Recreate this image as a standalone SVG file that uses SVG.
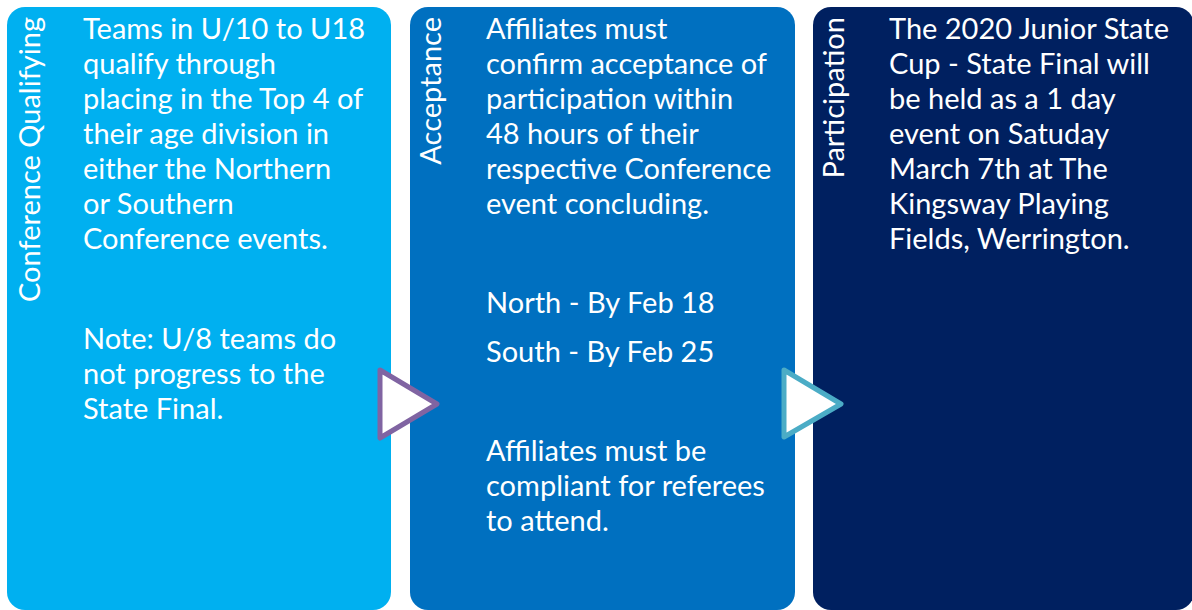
<svg xmlns="http://www.w3.org/2000/svg" width="1192" height="610" viewBox="0 0 1192 610">
<style>
.t{font-family:Lato,"Liberation Sans",sans-serif;font-size:29px;fill:#FFFFFF}
.lbl{font-family:Lato,"Liberation Sans",sans-serif;font-size:29px;fill:#FFFFFF;text-anchor:end}
.arr{fill:#FFFFFF;stroke-width:5;stroke-linejoin:round}
</style>
<rect width="1192" height="610" fill="#FFFFFF"/>
<g id="node-conference-qualifying">
<rect x="7" y="7" width="384" height="603" rx="18" fill="#00B0F0"/>
<text class="lbl" transform="translate(40,17) rotate(-90)">Conference Qualifying</text>
<text class="t" x="83" y="39">Teams in U/10 to U18</text>
<text class="t" x="83" y="74">qualify through</text>
<text class="t" x="83" y="109">placing in the Top 4 of</text>
<text class="t" x="83" y="144">their age division in</text>
<text class="t" x="83" y="179">either the Northern</text>
<text class="t" x="83" y="214">or Southern</text>
<text class="t" x="83" y="249">Conference events.</text>
<text class="t" x="83" y="349">Note: U/8 teams do</text>
<text class="t" x="83" y="384">not progress to the</text>
<text class="t" x="83" y="419">State Final.</text>
</g>
<g id="node-acceptance">
<rect x="410" y="7" width="385" height="603" rx="18" fill="#0070C0"/>
<text class="lbl" transform="translate(441,17) rotate(-90)">Acceptance</text>
<text class="t" x="486" y="39">Affiliates must</text>
<text class="t" x="486" y="74">confirm acceptance of</text>
<text class="t" x="486" y="109">participation within</text>
<text class="t" x="486" y="144">48 hours of their</text>
<text class="t" x="486" y="179">respective Conference</text>
<text class="t" x="486" y="214">event concluding.</text>
<text class="t" x="486" y="313">North - By Feb 18</text>
<text class="t" x="486" y="362">South - By Feb 25</text>
<text class="t" x="486" y="461">Affiliates must be</text>
<text class="t" x="486" y="496">compliant for referees</text>
<text class="t" x="486" y="531">to attend.</text>
</g>
<g id="node-participation">
<rect x="813" y="7" width="381" height="603" rx="18" fill="#002060"/>
<text class="lbl" transform="translate(844,17) rotate(-90)">Participation</text>
<text class="t" x="889" y="39">The 2020 Junior State</text>
<text class="t" x="889" y="74">Cup - State Final will</text>
<text class="t" x="889" y="109">be held as a 1 day</text>
<text class="t" x="889" y="144">event on Satuday</text>
<text class="t" x="889" y="179">March 7th at The</text>
<text class="t" x="889" y="214">Kingsway Playing</text>
<text class="t" x="889" y="249">Fields, Werrington.</text>
</g>
<g id="connectors">
<polygon class="arr" points="380,370 437,404 380,438" stroke="#8064A2"/>
<polygon class="arr" points="784,370 841,404 784,437" stroke="#4BACC6"/>
</g>
</svg>
